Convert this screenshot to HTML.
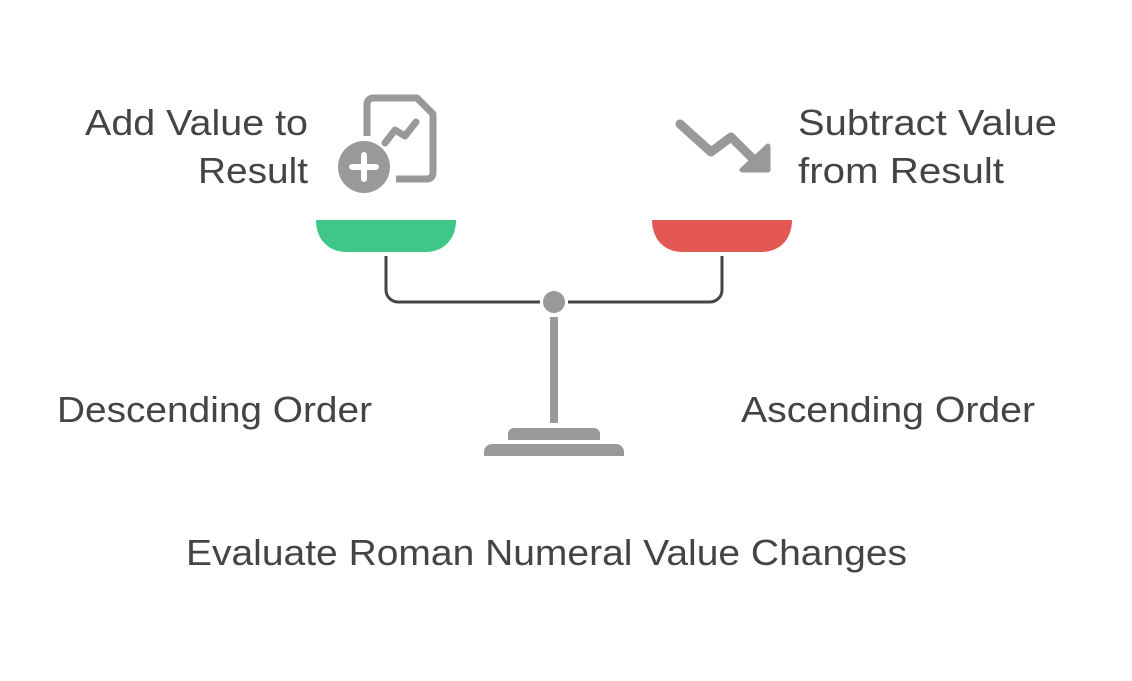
<!DOCTYPE html>
<html><head><style>
body{margin:0;width:1132px;height:676px;background:#fff;overflow:hidden;font-family:"Liberation Sans",sans-serif;}
svg text{font-family:"Liberation Sans",sans-serif;font-size:36px;fill:#444;}
</style></head><body>
<svg width="1132" height="676" viewBox="0 0 1132 676">
<text x="85" y="135" textLength="223" lengthAdjust="spacingAndGlyphs">Add Value to</text>
<text x="198" y="183" textLength="110" lengthAdjust="spacingAndGlyphs">Result</text>
<text x="798" y="135" textLength="259" lengthAdjust="spacingAndGlyphs">Subtract Value</text>
<text x="798" y="183" textLength="206" lengthAdjust="spacingAndGlyphs">from Result</text>
<text x="57" y="422" textLength="315" lengthAdjust="spacingAndGlyphs">Descending Order</text>
<text x="741" y="422" textLength="294" lengthAdjust="spacingAndGlyphs">Ascending Order</text>
<text x="186" y="565" textLength="721" lengthAdjust="spacingAndGlyphs">Evaluate Roman Numeral Value Changes</text>
<!-- doc icon -->
<path d="M367 136 V104 a6 6 0 0 1 6-6 H417 L433 114 V173 a6 6 0 0 1-6 6 H396" fill="none" stroke="#999" stroke-width="7" stroke-linejoin="round"/>
<path d="M385 143 L395 130 L405 136 L416 122" fill="none" stroke="#999" stroke-width="7" stroke-linecap="round" stroke-linejoin="round"/>
<circle cx="364" cy="167" r="26" fill="#999"/>
<path d="M364 155 V179 M352 167 H376" stroke="#fff" stroke-width="6" stroke-linecap="round"/>
<!-- down arrow icon -->
<path d="M680 124 L711 152 L731 137 L752 158" fill="none" stroke="#999" stroke-width="9" stroke-linecap="round" stroke-linejoin="round"/>
<path d="M768 146 V170 H742 Z" fill="#999" stroke="#999" stroke-width="5" stroke-linejoin="round"/>
<!-- pans -->
<path d="M316 220 H456 C456 238 445 252 425 252 H347 C327 252 316 238 316 220 Z" fill="#3ec787"/>
<path d="M652 220 H792 C792 238 781 252 761 252 H683 C663 252 652 238 652 220 Z" fill="#e45853"/>
<path d="M386 256 V290 a12 12 0 0 0 12 12 H540 M568 302 H710 a12 12 0 0 0 12-12 V256" fill="none" stroke="#444" stroke-width="3"/>
<circle cx="554" cy="302" r="11" fill="#999"/>
<rect x="550" y="317" width="8" height="106" fill="#999"/>
<path d="M508 440 V434 a6 6 0 0 1 6-6 H594 a6 6 0 0 1 6 6 V440 Z" fill="#999"/>
<path d="M484 456 V452 a8 8 0 0 1 8-8 H616 a8 8 0 0 1 8 8 V456 Z" fill="#999"/>
</svg>
</body></html>
